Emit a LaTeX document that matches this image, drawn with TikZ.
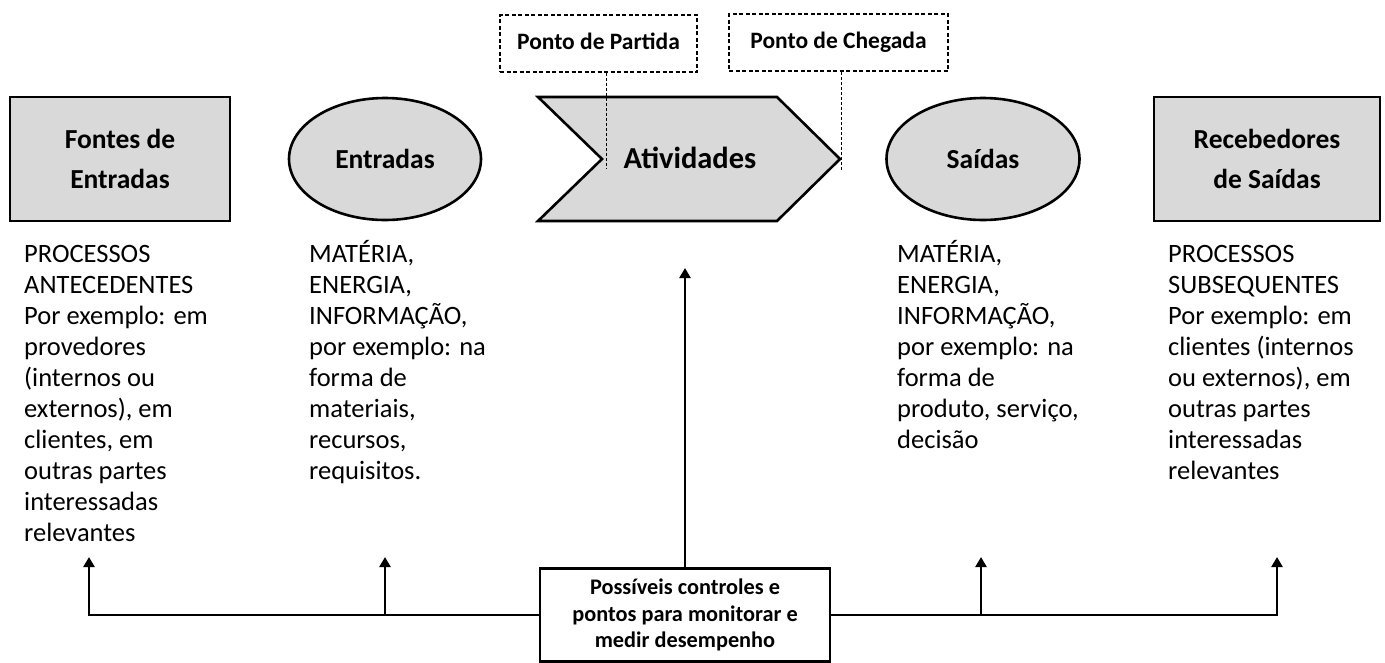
\documentclass[tikz,border=0pt]{standalone}
\usepackage{fontspec}
\setmainfont{Carlito}
\usetikzlibrary{arrows.meta,shapes.geometric}
\definecolor{boxgray}{HTML}{D9D9D9}
\begin{document}
\begin{tikzpicture}[x=1pt,y=-1pt,
  shapebox/.style={draw=black, line width=2.6pt, fill=boxgray, inner sep=0pt, line join=miter},
  headfont/.style={font=\fontsize{27.5}{40}\selectfont\bfseries},
  dashbox/.style={draw=black, line width=1.6pt, dash pattern=on 4pt off 2.5pt, inner sep=0pt, text height=16pt, text depth=5pt, font=\fontsize{23.5}{26}\selectfont\bfseries},
  dashline/.style={draw=black, line width=0.9pt, dash pattern=on 3pt off 2pt},
  body/.style={font=\fontsize{26.5}{31}\selectfont, align=left, inner sep=0pt, anchor=base west},
  arr/.style={line width=2.6pt, -{Triangle[width=11pt,length=10pt]}},
  ctrlbox/.style={draw=black, line width=2.6pt, fill=white, inner sep=0pt, align=center, font=\fontsize{22.3}{26.5}\selectfont\bfseries}
]
\useasboundingbox (0,0) rectangle (1385,662);

% top shapes
\node[shapebox, minimum width=220pt, minimum height=124pt, headfont, align=center] (fontes) at (120,159) {Fontes de\\Entradas};
\node[shapebox, ellipse, minimum width=192pt, minimum height=122pt, headfont] (entradas) at (385,159) {Entradas};
\draw[shapebox] (538,97) -- (777,97) -- (840,159) -- (777,221) -- (538,221) -- (602,159) -- cycle;
\node[font=\fontsize{30.5}{36}\selectfont\bfseries, inner sep=0pt, anchor=base] (ativ) at (690,168) {Atividades};
\node[shapebox, ellipse, minimum width=193pt, minimum height=122pt, headfont] (saidas) at (983,159) {Saídas};
\node[shapebox, minimum width=226pt, minimum height=124pt, headfont, align=center] (receb) at (1267,159) {Recebedores\\de Saídas};

% dashed callouts
\node[dashbox, minimum width=197pt, minimum height=57pt] (partida) at (598.5,43.5) {Ponto de Partida};
\node[dashbox, minimum width=219pt, minimum height=57pt] (chegada) at (838.5,42.5) {Ponto de Chegada};
\coordinate (pp) at (606,168);
\coordinate (pc) at (841,170);
\draw[dashline] (partida.south -| pp) -- (pp);
\draw[dashline] (chegada.south -| pc) -- (pc);

% text blocks (anchored at the baseline of their last line)
\node[body] (tfontes) at (24,541) {PROCESSOS\\ANTECEDENTES\\Por exemplo: em\\provedores\\(internos ou\\externos), em\\clientes, em\\outras partes\\interessadas\\relevantes};
\node[body] (tentradas) at (309,479) {MATÉRIA,\\ENERGIA,\\INFORMAÇÃO,\\por exemplo: na\\forma de\\materiais,\\recursos,\\requisitos.};
\node[body] (tsaidas) at (897,448) {MATÉRIA,\\ENERGIA,\\INFORMAÇÃO,\\por exemplo: na\\forma de\\produto, serviço,\\decisão};
\node[body] (treceb) at (1168,479) {PROCESSOS\\SUBSEQUENTES\\Por exemplo: em\\clientes (internos\\ou externos), em\\outras partes\\interessadas\\relevantes};

% control box and arrows
\node[ctrlbox, minimum width=290pt, minimum height=93pt] (ctrl) at (685,615) {Possíveis controles e\\pontos para monitorar e\\medir desempenho};
\coordinate (a1) at (89,557);
\coordinate (a2) at (385,557);
\coordinate (a3) at (981,557);
\coordinate (a4) at (1277,557);
\coordinate (atop) at (685,268);
\draw[arr] (ctrl.west) -| (a1);
\draw[arr] (a2 |- ctrl.west) -- (a2);
\draw[arr] (ctrl.east) -| (a4);
\draw[arr] (a3 |- ctrl.east) -- (a3);
\draw[arr] (ctrl.north) -- (atop);
\end{tikzpicture}
\end{document}
